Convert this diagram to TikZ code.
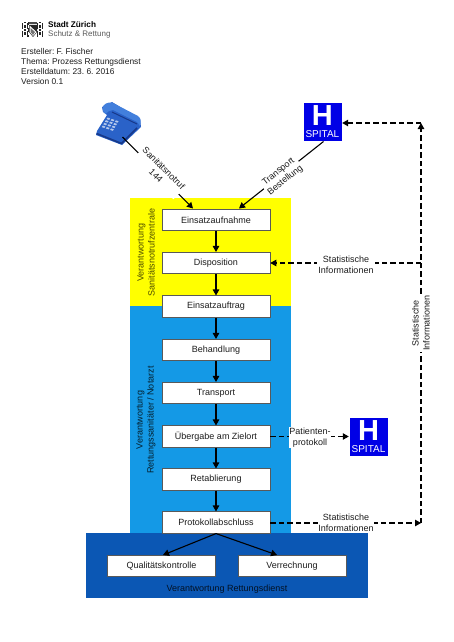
\documentclass[tikz,border=0pt]{standalone}
\usepackage{fontspec}
\setmainfont{Liberation Sans}
\frenchspacing
\usetikzlibrary{arrows.meta}
\definecolor{ybg}{HTML}{FFFF00}
\definecolor{bbg}{HTML}{1499E6}
\definecolor{dbg}{HTML}{0B57B4}
\definecolor{spb}{HTML}{0000E6}
\definecolor{txt}{HTML}{1C1C1C}
\definecolor{ph}{HTML}{2A62C8}
\definecolor{phd}{HTML}{17398A}
\definecolor{phl}{HTML}{4F8FE6}
\tikzset{
  x=1pt,y=-1pt,
  every node/.style={font=\fontsize{9}{11}\selectfont,text=txt},
  stepbox/.style={draw=black!65,line width=.6pt,fill=white,minimum width=108pt,minimum height=21.5pt,inner sep=0pt},
  flow/.style={draw=black,line width=1.1pt,-{Triangle[length=6pt,width=6.5pt]}},
  dashflow/.style={flow,dash pattern=on 5.5pt off 3pt},
  lbl/.style={fill=white,inner sep=1pt,align=center},
  spitalbox/.style={draw=white,line width=.5pt,fill=spb,minimum size=39pt,inner sep=0pt},
  spitalh/.style={font=\fontsize{29}{29}\selectfont\bfseries,text=white,inner sep=0pt},
  spitalt/.style={font=\fontsize{10}{10}\selectfont,text=white,inner sep=0pt},
  rotlbl/.style={align=center,inner sep=0pt},
  headline/.style={anchor=base west,inner sep=0pt,font=\fontsize{8.4}{10}\selectfont},
}
\begin{document}
\begin{tikzpicture}
\useasboundingbox (0,0) rectangle (454,642);
% regions
\fill[ybg] (129.5,198) rectangle (291,306);
\fill[bbg] (129.5,306) rectangle (291,533);
\fill[dbg] (86,533) rectangle (368,598);
% logo
\foreach \i in {0,...,13}{\foreach \j in {0,...,9}{
  \pgfmathtruncatemacro{\cellv}{mod(\i*\i*3+\j*\j*7+\i*\j*5+\i,5)}
  \ifnum\cellv>1
    \fill[black!85] ({22+1.5*\i},{22+1.5*\j}) rectangle ++(1.4,1.4);
  \fi}}
\fill[white] (29,22) rectangle (37,37);
\fill[black!85] (29,25) -- (37,25) -- (37,32) -- (33,37) -- (29,32) -- cycle;
\fill[white] (29.7,25.7) -- (36.5,32) -- (33,36) -- (29.7,32) -- cycle;
\fill[black!55] (30.5,28) -- (35,32) -- (33,35) -- (30.5,32) -- cycle;
\fill[black!70] (29,22.5) rectangle (37,24.3);
\node[anchor=base west,inner sep=0pt,font=\fontsize{8.2}{10}\selectfont\bfseries,text=black] (stadt) at (48,28) {Stadt Zürich};
\node[anchor=base west,inner sep=0pt,font=\fontsize{8}{10}\selectfont,text=black!65] (schutz) at (48,36.5) {Schutz \& Rettung};
% header
\node[headline] (h1) at (21,54.4) {Ersteller: F. Fischer};
\node[headline] (h2) at (21,64.4) {Thema: Prozess Rettungsdienst};
\node[headline] (h3) at (21,74.4) {Erstelldatum: 23. 6. 2016};
\node[headline] (h4) at (21,84.4) {Version 0.1};
% phone
\coordinate (phone) at (122.5,137);
\fill[ph] (102,107) -- (112,102) -- (140,119) -- (141,127) -- (122,145) -- (96,135) -- (97,131) -- (107,115) -- (103,112) -- cycle;
\fill[phl!65!ph] (102.5,108) .. controls (103,104) and (108,102) .. (112,102.5) -- (138,116) .. controls (141,118) and (141.5,122) .. (139.5,126) .. controls (138,122) and (136,121) .. (133,120) -- (113,110) .. controls (110,110) and (107,112) .. (105.5,114) .. controls (103.5,113) and (102.5,110) .. (102.5,108) -- cycle;
\draw[phd,line width=1pt] (112,112) -- (137,124);
\draw[phd,line width=1.6pt,line join=round] (96.5,133.5) -- (121.5,143.5) -- (137,128);
\foreach \r in {0,1,2,3}{\foreach \c in {0,1,2}{
  \fill[white!65!ph] ({107.5+\c*4.2-\r*1.6},{117.5+\c*1.4+\r*2.7}) -- ++(2.7,.9) -- ++(-1,1.5) -- ++(-2.7,-.9) -- cycle;
}}
% process boxes
\node[stepbox] (auf) at (216,220) {Einsatzaufnahme};
\node[stepbox] (dis) at (216,263) {Disposition};
\node[stepbox] (auftrag) at (216,306.5) {Einsatzauftrag};
\node[stepbox] (beh) at (216,350) {Behandlung};
\node[stepbox] (tra) at (216,393) {Transport};
\node[stepbox] (ueb) at (216,436.5) {Übergabe am Zielort};
\node[stepbox] (ret) at (216,479.5) {Retablierung};
\node[stepbox] (pro) at (216,522.5) {Protokollabschluss};
\node[stepbox] (qua) at (161.5,566) {Qualitätskontrolle};
\node[stepbox] (ver) at (292,566) {Verrechnung};
% spital icons
\node[spitalbox] (sp1) at (322.4,121.4) {};
\node[spitalh] (sp1h) at (322.4,115.4) {H};
\node[spitalt] (sp1t) at (322.4,134) {SPITAL};
\node[spitalbox] (sp2) at (368.5,436.5) {};
\node[spitalh] (sp2h) at (368.5,430.5) {H};
\node[spitalt] (sp2t) at (368.5,449) {SPITAL};
% connector anchors
\coordinate (aufL) at (193,208.5);
\coordinate (aufR) at (239,208.5);
\coordinate (sp1S) at (323.5,141.5);
\coordinate (corner) at (421,123);
\coordinate (cornerD) at (421,263);
\coordinate (cornerP) at (421,523);
\coordinate (quaT) at (163,555);
\coordinate (verT) at (277,555);
% connectors
\draw[flow] (phone) -- (aufL);
\draw[flow] (sp1S) -- (aufR);
\draw[flow] (auf) -- (dis);
\draw[flow] (dis) -- (auftrag);
\draw[flow] (auftrag) -- (beh);
\draw[flow] (beh) -- (tra);
\draw[flow] (tra) -- (ueb);
\draw[flow] (ueb) -- (ret);
\draw[flow] (ret) -- (pro);
\draw[flow] (pro.south) -- (quaT);
\draw[flow] (pro.south) -- (verT);
\draw[dashflow] (cornerD) -- (dis.east);
\draw[dashflow] (ueb.east) -- (sp2.west);
\draw[dashflow] (pro.east |- cornerP) -- (cornerP);
\draw[dashflow] (cornerP) -- (corner);
\draw[dashflow] (corner) -- (sp1.east |- corner);
% labels
\node[lbl,rotate=-45] (l1) at (160,172) {Sanitätsnotruf\\144};
\node[lbl,rotate=38.6] (l2) at (282,176) {Transport\\Bestellung};
\node[lbl] (l3) at (346,264.5) {Statistische\\Informationen};
\node[lbl,inner sep=0.5pt] (l4) at (310,437.5) {Patienten-\\protokoll};
\node[lbl,inner sep=.5pt] (l5) at (346,523) {Statistische\\Informationen};
\node[lbl,rotate=90] (l6) at (421,323) {Statistische\\Informationen};
% region labels
\node[rotlbl,rotate=90,text=black!70!ybg] (r1) at (146,252.5) {Verantwortung\\Sanitätsnotrufzentrale};
\node[rotlbl,rotate=90,text=black!80!bbg] (r2) at (146,420) {Verantwortung\\Rettungssanitäter / Notarzt};
\node[inner sep=0pt,text=black!80!dbg] (r3) at (227,589.5) {Verantwortung Rettungsdienst};
\end{tikzpicture}
\end{document}
